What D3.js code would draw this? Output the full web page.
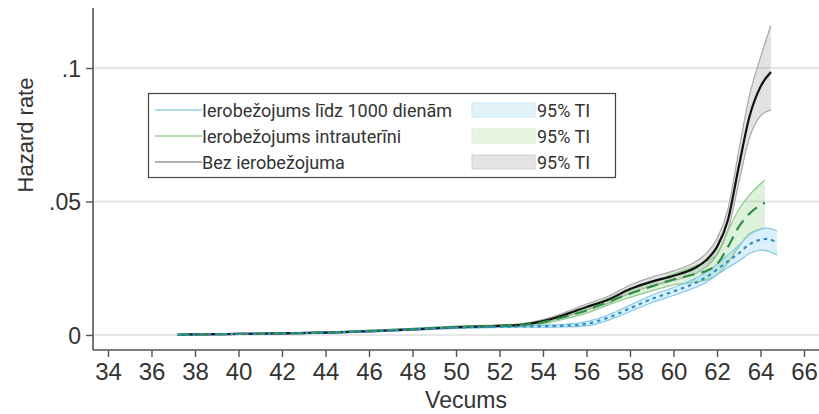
<!DOCTYPE html>
<html>
<head>
<meta charset="utf-8">
<title>Hazard rate</title>
<script src="https://d3js.org/d3.v7.min.js"></script>
<style>
  body { margin: 0; background: #fff; }
  text { fill: #333; }
</style>
</head>
<body>
<div id="chart"></div>
<script>
  // values
  const ageBlue  = [37.2, 38, 40, 42, 44, 46, 48, 50, 52, 53, 54, 55, 56, 57, 58, 59, 60, 61, 61.5, 62, 62.5, 63, 63.5, 64, 64.3, 64.76];
  const hazBlue  = [0.0001, 0.0002, 0.0004, 0.0006, 0.0009, 0.0014, 0.0021, 0.0028, 0.0031, 0.0032, 0.0033, 0.0035, 0.0042, 0.0065, 0.0100, 0.0135, 0.0163, 0.0195, 0.0216, 0.0245, 0.0276, 0.0306, 0.0340, 0.0357, 0.0360, 0.0345];
  const loBlue   = [0.0000, 0.0001, 0.0003, 0.0004, 0.0007, 0.0011, 0.0018, 0.0025, 0.0028, 0.0029, 0.0029, 0.0030, 0.0034, 0.0055, 0.0088, 0.0121, 0.0148, 0.0178, 0.0197, 0.0225, 0.0252, 0.0277, 0.0305, 0.0318, 0.0315, 0.0300];
  const hiBlue   = [0.0002, 0.0003, 0.0005, 0.0008, 0.0011, 0.0017, 0.0024, 0.0031, 0.0034, 0.0035, 0.0037, 0.0040, 0.0050, 0.0075, 0.0112, 0.0149, 0.0178, 0.0212, 0.0235, 0.0265, 0.0300, 0.0335, 0.0375, 0.0396, 0.0400, 0.0390];

  const ageGreen = [37.2, 38, 40, 42, 44, 46, 48, 50, 52, 53, 54, 55, 56, 57, 58, 59, 60, 61, 61.5, 62, 62.5, 63, 63.5, 64.2];
  const hazGreen = [0.0001, 0.0002, 0.0004, 0.0006, 0.0009, 0.0015, 0.0022, 0.0030, 0.0034, 0.0037, 0.0048, 0.0068, 0.0092, 0.0125, 0.0155, 0.0182, 0.0208, 0.0228, 0.0240, 0.0265, 0.0330, 0.0405, 0.0455, 0.0495];
  const loGreen  = [0.0000, 0.0001, 0.0003, 0.0004, 0.0007, 0.0012, 0.0019, 0.0027, 0.0030, 0.0032, 0.0041, 0.0060, 0.0082, 0.0113, 0.0141, 0.0165, 0.0188, 0.0198, 0.0206, 0.0225, 0.0270, 0.0330, 0.0380, 0.0400];
  const hiGreen  = [0.0002, 0.0003, 0.0005, 0.0008, 0.0011, 0.0018, 0.0025, 0.0033, 0.0038, 0.0042, 0.0055, 0.0076, 0.0102, 0.0137, 0.0169, 0.0199, 0.0228, 0.0258, 0.0274, 0.0305, 0.0390, 0.0470, 0.0525, 0.0580];

  const ageBlack = [37.2, 38, 40, 42, 44, 46, 48, 50, 52, 53, 54, 55, 56, 57, 58, 59, 60, 61, 61.5, 62, 62.5, 63, 63.5, 64, 64.48];
  const hazBlack = [0.0001, 0.0002, 0.0004, 0.0006, 0.0009, 0.0014, 0.0021, 0.0029, 0.0034, 0.0038, 0.0052, 0.0076, 0.0105, 0.0132, 0.0172, 0.0200, 0.0222, 0.0252, 0.0280, 0.0330, 0.0430, 0.0630, 0.0820, 0.0930, 0.0985];
  const loBlack  = [0.0000, 0.0001, 0.0002, 0.0004, 0.0007, 0.0011, 0.0018, 0.0026, 0.0031, 0.0034, 0.0046, 0.0068, 0.0094, 0.0119, 0.0157, 0.0183, 0.0204, 0.0230, 0.0255, 0.0300, 0.0390, 0.0570, 0.0740, 0.0820, 0.0843];
  const hiBlack  = [0.0002, 0.0003, 0.0006, 0.0008, 0.0011, 0.0017, 0.0024, 0.0032, 0.0037, 0.0042, 0.0058, 0.0084, 0.0116, 0.0145, 0.0187, 0.0217, 0.0240, 0.0274, 0.0305, 0.0360, 0.0470, 0.0690, 0.0900, 0.1040, 0.1160];

  const xTicks = d3.range(34, 67, 2);
  const yTicks = [0, 0.05, 0.1];
  const yTickLabels = ["0", ".05", ".1"];
  const legendLabels = ["Ierobežojums līdz 1000 dienām", "Ierobežojums intrauterīni", "Bez ierobežojuma"];
  const ciLabel = "95% TI";

  const width = 819, height = 414;
  const svg = d3.select("#chart").append("svg")
      .attr("width", width).attr("height", height);

  const x = d3.scaleLinear().domain([34, 66]).range([108, 804]);
  const y = d3.scaleLinear().domain([0, 0.1]).range([335, 68]);
  const axisLeftX = 93, axisBottomY = 350;

  // gridlines
  svg.append("g").selectAll("line").data(yTicks).join("line")
      .attr("x1", axisLeftX).attr("x2", width)
      .attr("y1", d => y(d)).attr("y2", d => y(d))
      .attr("stroke", "#e6e6e6").attr("stroke-width", 2);

  const series = [
    { age: ageBlack, haz: hazBlack, lo: loBlack, hi: hiBlack, fill: "rgba(150,150,150,0.28)", edge: "#a8a8a8", line: "#111", dash: null },
    { age: ageGreen, haz: hazGreen, lo: loGreen, hi: hiGreen, fill: "rgba(120,200,110,0.25)", edge: "#8fcb8a", line: "#2f8f45", dash: "12,7" },
    { age: ageBlue,  haz: hazBlue,  lo: loBlue,  hi: hiBlue,  fill: "rgba(110,195,235,0.25)", edge: "#86c9e6", line: "#2d8fc8", dash: "3.5,4" }
  ];

  const area = d3.area().curve(d3.curveMonotoneX)
      .x(d => x(d[0])).y0(d => y(d[1])).y1(d => y(d[2]));
  const line = d3.line().curve(d3.curveMonotoneX)
      .x(d => x(d[0])).y(d => y(d[1]));

  series.forEach(s => {
    const pts = s.age.map((a, i) => [a, s.lo[i], s.hi[i]]);
    svg.append("path").datum(pts).attr("d", area).attr("fill", s.fill);
    svg.append("path").datum(pts.map(p => [p[0], p[1]])).attr("d", line)
        .attr("fill", "none").attr("stroke", s.edge).attr("stroke-width", 1.2);
    svg.append("path").datum(pts.map(p => [p[0], p[2]])).attr("d", line)
        .attr("fill", "none").attr("stroke", s.edge).attr("stroke-width", 1.2);
  });

  series.forEach(s => {
    svg.append("path").datum(s.age.map((a, i) => [a, s.haz[i]])).attr("d", line)
        .attr("fill", "none").attr("stroke", s.line).attr("stroke-width", 2.2)
        .attr("stroke-dasharray", s.dash);
  });

  // axes
  const yAxis = svg.append("g").attr("transform", `translate(${axisLeftX},0)`)
      .call(d3.axisLeft(y).tickValues(yTicks).tickSize(7).tickPadding(5)
        .tickFormat((d, i) => yTickLabels[i]));
  yAxis.select(".domain").remove();
  yAxis.append("line").attr("x1", 0).attr("x2", 0).attr("y1", 8).attr("y2", axisBottomY)
      .attr("stroke", "#555").attr("stroke-width", 1.6);

  const xAxis = svg.append("g").attr("transform", `translate(0,${axisBottomY})`)
      .call(d3.axisBottom(x).tickValues(xTicks).tickSize(7).tickPadding(6));
  xAxis.select(".domain").remove();
  xAxis.append("line").attr("x1", axisLeftX).attr("x2", width).attr("y1", 0).attr("y2", 0)
      .attr("stroke", "#555").attr("stroke-width", 1.6);

  [yAxis, xAxis].forEach(g => {
    g.selectAll(".tick line").attr("stroke", "#555").attr("stroke-width", 1.4);
    g.selectAll(".tick text").attr("fill", "#333")
        .style("font-family", "'Liberation Sans', Arial, sans-serif");
  });
  yAxis.selectAll(".tick text").style("font-size", "23px").attr("dy", "0.36em");
  xAxis.selectAll(".tick text").style("font-size", "24px");

  svg.append("text").attr("x", 466).attr("y", 408).attr("text-anchor", "middle")
      .style("font-family", "'Liberation Sans', Arial, sans-serif").style("font-size", "23px")
      .text("Vecums");
  svg.append("text").attr("transform", "translate(33,135) rotate(-90)").attr("text-anchor", "middle")
      .style("font-family", "'Liberation Sans', Arial, sans-serif").style("font-size", "22px")
      .text("Hazard rate");

  // legend
  const legend = svg.append("g");
  legend.append("rect").attr("x", 148.5).attr("y", 93.5).attr("width", 467).attr("height", 84)
      .attr("fill", "#fff").attr("stroke", "#444").attr("stroke-width", 1.2);
  const legLine = ["#8fd0e6", "#98cf9c", "#9a9a9a"];
  const legFill = ["#e2f3fa", "#e6f5e2", "#e4e4e4"];
  const legEdge = ["#c9e7f3", "#d3ecd0", "#cfcfcf"];
  legendLabels.forEach((lab, i) => {
    const cy = 110 + i * 26;
    legend.append("line").attr("x1", 155).attr("x2", 202).attr("y1", cy).attr("y2", cy)
        .attr("stroke", legLine[i]).attr("stroke-width", 1.6);
    legend.append("text").attr("x", 202).attr("y", cy + 6.5)
        .style("font-family", "Roboto, sans-serif").style("font-size", "18px").text(lab);
    legend.append("rect").attr("x", 472).attr("y", cy - 7).attr("width", 63).attr("height", 14)
        .attr("fill", legFill[i]).attr("stroke", legEdge[i]).attr("stroke-width", 1);
    legend.append("text").attr("x", 537).attr("y", cy + 6.5)
        .style("font-family", "Roboto, sans-serif").style("font-size", "18px").text(ciLabel);
  });
</script>
</body>
</html>
